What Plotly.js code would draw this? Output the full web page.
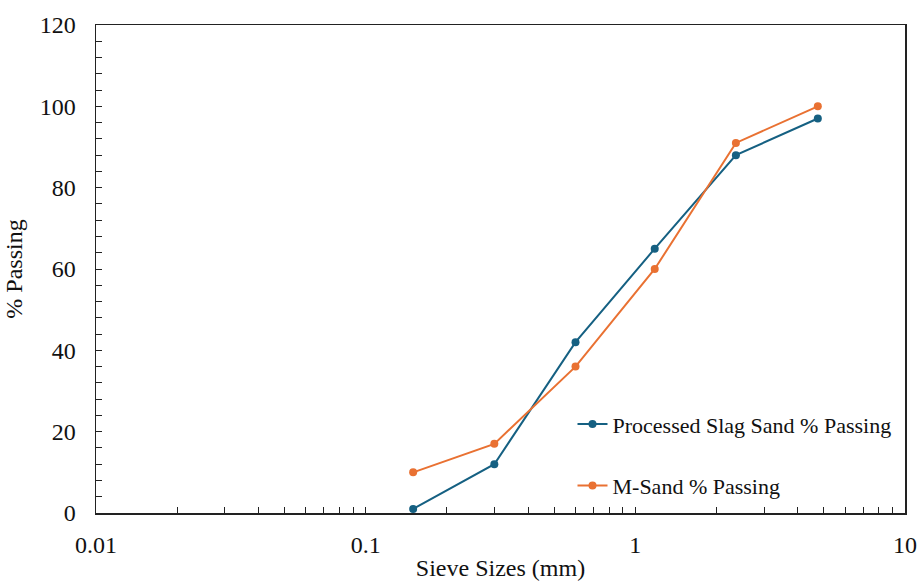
<!DOCTYPE html>
<html>
<head>
<meta charset="utf-8">
<script src="https://cdn.plot.ly/plotly-3.0.1.min.js"></script>
<style>html,body{margin:0;padding:0;background:#fff;}#chart{width:919px;height:582px;}</style>
</head>
<body>
<div id="chart"></div>
<script>
var sieveSizes = [0.15, 0.3, 0.6, 1.18, 2.36, 4.75];
var slagPassing = [1, 12, 42, 65, 88, 97];
var msandPassing = [10, 17, 36, 60, 91, 100];
var seriesNames = ["Processed Slag Sand % Passing", "M-Sand % Passing"];
var xTickVals = [0.01, 0.1, 1, 10];
var xTickText = ["0.01", "0.1", "1", "10"];
var yTickVals = [0, 20, 40, 60, 80, 100, 120];

var font = "Liberation Serif, Times New Roman, serif";
var traces = [
  {x: sieveSizes, y: slagPassing, name: seriesNames[0], type: "scatter", mode: "lines+markers",
   legendgroup: "a", line: {color: "#156082", width: 2}, marker: {color: "#156082", size: 8}},
  {x: sieveSizes, y: msandPassing, name: seriesNames[1], type: "scatter", mode: "lines+markers",
   legendgroup: "b", line: {color: "#E97132", width: 2}, marker: {color: "#E97132", size: 8}}
];
var layout = {
  width: 919, height: 582,
  margin: {l: 96, r: 14, t: 25, b: 69},
  paper_bgcolor: "#fff", plot_bgcolor: "#fff",
  font: {family: font, color: "#111"},
  showlegend: true,
  legend: {x: 0.589, y: 0.225, xanchor: "left", yanchor: "top", bgcolor: "rgba(0,0,0,0)",
           font: {family: font, size: 22, color: "#111"}, tracegroupgap: 30, itemwidth: 30},
  xaxis: {type: "log", range: [-2, 1], tickvals: xTickVals, ticktext: xTickText,
          ticks: "inside", ticklen: 6, tickcolor: "#222", showgrid: false, zeroline: false,
          showline: true, linecolor: "#222", linewidth: 1.5, mirror: true, ticklabelstandoff: 10,
          tickfont: {family: font, size: 24, color: "#111"},
          minor: {tickvals: [0.02,0.03,0.04,0.05,0.06,0.07,0.08,0.09,0.2,0.3,0.4,0.5,0.6,0.7,0.8,0.9,2,3,4,5,6,7,8,9],
                  ticks: "inside", ticklen: 6, tickcolor: "#222", showgrid: false},
          title: {text: "Sieve Sizes (mm)", font: {family: font, size: 24, color: "#111"}, standoff: 2}},
  yaxis: {range: [0, 120], tickvals: yTickVals, ticks: "inside", ticklen: 6, tickcolor: "#222",
          showgrid: false, zeroline: false, showline: true, linecolor: "#222", linewidth: 1.5, mirror: true,
          ticklabelstandoff: 14,
          tickfont: {family: font, size: 24, color: "#111"},
          minor: {dtick: 4, ticks: "inside", ticklen: 6, tickcolor: "#222", showgrid: false},
          title: {text: "% Passing", font: {family: font, size: 24, color: "#111"}, standoff: 10}}
};
Plotly.newPlot("chart", traces, layout, {displayModeBar: false, staticPlot: true});
</script>
</body>
</html>
